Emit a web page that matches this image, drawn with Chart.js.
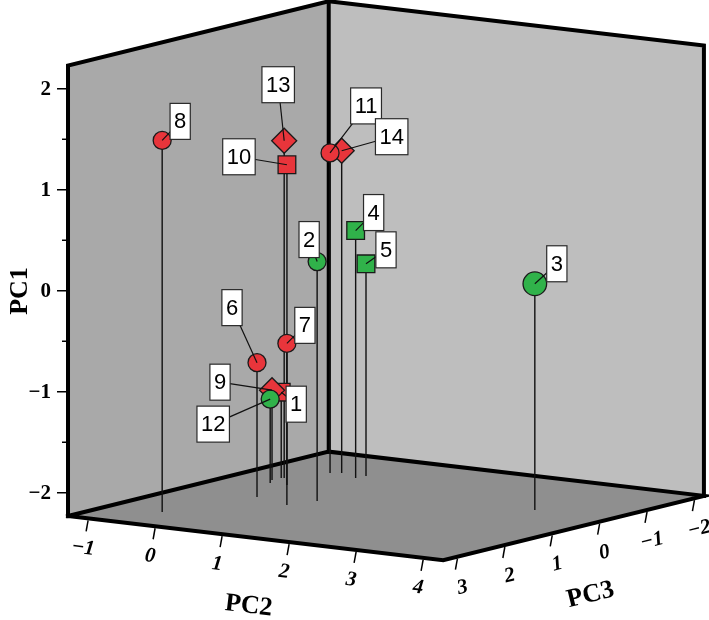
<!DOCTYPE html>
<html>
<head>
<meta charset="utf-8">
<title>PCA 3D scatter</title>
<script src="https://cdn.jsdelivr.net/npm/chart.js@4.4.1/dist/chart.umd.min.js"></script>
<style>
    html, body { margin: 0; padding: 0; background: #ffffff; }
    #wrap { width: 709px; height: 620px; }
</style>
</head>
<body>
<div id="wrap"><canvas id="pcaChart" width="709" height="620"></canvas></div>
<script>
// Samples and their scores on the three principal components
const samples = ['1', '2', '3', '4', '5', '6', '7', '8', '9', '10', '11', '12', '13', '14'];
const pc1Values = [-1.38, 0.14, 0.01, 0.22, -0.13, -0.90, -0.63, 1.45, -1.34, 0.94, 0.94, -1.40, 1.11, 0.96];
const pc2Values = [-0.70, 0.60, 3.17, 0.05, 0.07, -0.17, 0.46, -0.51, -0.71, -0.36, -0.41, -0.61, -0.67, -0.30];
const pc3Values = [-0.35, 0.73, -0.23, -0.86, -1.05, 0.91, 1.17, 2.43, -0.17, 0.01, -0.97, 0.01, -0.37, -1.06];
const sampleGroup = ['red', 'green', 'green', 'green', 'green', 'red', 'red', 'red', 'red', 'red', 'red', 'green', 'red', 'red'];
const sampleShape = ['square', 'circle', 'circle', 'square', 'square', 'circle', 'circle', 'circle', 'diamond', 'square', 'circle', 'circle', 'diamond', 'diamond'];

// Tick labels
const pc1Ticks = [-2, -1, 0, 1, 2];
const pc2Ticks = [-1, 0, 1, 2, 3, 4];
const pc3Ticks = [3, 2, 1, 0, -1, -2];

// Box limits of the 3D cube
const PC1_RANGE = [-2.23, 2.23];
const PC2_RANGE = [-1.3, 4.3];
const PC3_RANGE = [-2.2, 3.3];

// Styling / layout (not data)
const groupColors = { red: '#e8353b', green: '#30b24a' };
const shapeStyle = { circle: 'circle', square: 'rect', diamond: 'rectRot' };
const shapeRadius = { circle: 9, square: 12.5, diamond: 12.5 };
const bigMarker = { '3': 11.8 };
// label box offset from the marker, in pixels
const labelOffsets = {
    '1': [15, 12], '2': [-8, -22], '3': [22, -20], '4': [18, -18], '5': [20, -14],
    '6': [-25, -55], '7': [18, -18], '8': [18, -19], '9': [-52, -8], '10': [-48, -8],
    '11': [36, -47], '12': [-57, 25], '13': [-6, -56], '14': [50, -14]
};

// oblique projection of (PC1, PC2, PC3) into the flat chart plane
const KX3 = 0.7075, KY2 = 0.0782, KY3 = 0.1158;
function project(p1, p2, p3) {
    const a = p2 - PC2_RANGE[0];
    const b = PC3_RANGE[1] - p3;
    return { x: a + KX3 * b, y: p1 - KY2 * a + KY3 * b };
}

// rough viewer distance, used to paint far markers first
function nearness(i) {
    return 0.462 * pc2Values[i] + 0.687 * pc3Values[i];
}

function toPx(chart, p) {
    return [chart.scales.x.getPixelForValue(p.x), chart.scales.y.getPixelForValue(p.y)];
}

function polygon(ctx, chart, pts, fill) {
    ctx.beginPath();
    pts.forEach(function(p, i) {
        const q = toPx(chart, p);
        if (i === 0) ctx.moveTo(q[0], q[1]); else ctx.lineTo(q[0], q[1]);
    });
    ctx.closePath();
    ctx.fillStyle = fill;
    ctx.fill();
}

function polyline(ctx, chart, pts) {
    ctx.beginPath();
    pts.forEach(function(p, i) {
        const q = toPx(chart, p);
        if (i === 0) ctx.moveTo(q[0], q[1]); else ctx.lineTo(q[0], q[1]);
    });
    ctx.stroke();
}

function fmt(v) {
    return v < 0 ? '\u2212' + Math.abs(v) : String(v);
}

// cube walls, floor, edges, ticks and axis titles
const cubePlugin = {
    id: 'cube',
    beforeDatasetsDraw: function(chart) {
        const ctx = chart.ctx;
        const [c1a, c1b] = PC1_RANGE, [c2a, c2b] = PC2_RANGE, [c3a, c3b] = PC3_RANGE;
        ctx.save();

        // left wall (PC2 = min)
        polygon(ctx, chart, [project(c1a, c2a, c3b), project(c1b, c2a, c3b), project(c1b, c2a, c3a), project(c1a, c2a, c3a)], '#a9a9a9');
        // right wall (PC3 = min)
        polygon(ctx, chart, [project(c1a, c2a, c3a), project(c1b, c2a, c3a), project(c1b, c2b, c3a), project(c1a, c2b, c3a)], '#bebebe');
        // floor (PC1 = min)
        polygon(ctx, chart, [project(c1a, c2a, c3b), project(c1a, c2a, c3a), project(c1a, c2b, c3a), project(c1a, c2b, c3b)], '#8f8f8f');

        ctx.strokeStyle = '#000';
        ctx.lineWidth = 4;
        ctx.lineJoin = 'miter';
        ctx.lineCap = 'square';
        polyline(ctx, chart, [project(c1a, c2a, c3b), project(c1b, c2a, c3b), project(c1b, c2a, c3a), project(c1b, c2b, c3a), project(c1a, c2b, c3a)]);
        polyline(ctx, chart, [project(c1b, c2a, c3a), project(c1a, c2a, c3a)]);
        polyline(ctx, chart, [project(c1a, c2a, c3b), project(c1a, c2a, c3a), project(c1a, c2b, c3a), project(c1a, c2b, c3b), project(c1a, c2a, c3b)]);

        // PC1 ticks on the left vertical edge
        ctx.lineWidth = 1.5;
        ctx.lineCap = 'butt';
        for (let v = -2; v <= 2.001; v += 0.5) {
            const q = toPx(chart, project(v, c2a, c3b));
            const major = Math.abs(v - Math.round(v)) < 1e-6;
            ctx.beginPath();
            ctx.moveTo(q[0] - 1, q[1]);
            ctx.lineTo(q[0] - (major ? 11 : 6), q[1]);
            ctx.stroke();
        }
        ctx.fillStyle = '#000';
        ctx.font = 'bold 21px "Liberation Serif", "DejaVu Serif", serif';
        ctx.textAlign = 'right';
        ctx.textBaseline = 'middle';
        pc1Ticks.forEach(function(v) {
            const q = toPx(chart, project(v, c2a, c3b));
            ctx.fillText(fmt(v), q[0] - 17, q[1] + 1);
        });

        // PC2 ticks on the front-left floor edge
        const e2a = toPx(chart, project(c1a, c2a, c3b)), e2b = toPx(chart, project(c1a, c2b, c3b));
        const ang2 = Math.atan2(e2b[1] - e2a[1], e2b[0] - e2a[0]);
        ctx.textAlign = 'center';
        ctx.font = 'italic bold 21px "Liberation Serif", "DejaVu Serif", serif';
        pc2Ticks.forEach(function(v) {
            const q = toPx(chart, project(c1a, v, c3b));
            ctx.beginPath();
            ctx.moveTo(q[0], q[1] + 2);
            ctx.lineTo(q[0] - 2, q[1] + 13);
            ctx.stroke();
            ctx.save();
            ctx.translate(q[0] - 5, q[1] + 30);
            ctx.rotate(ang2);
            ctx.fillText(fmt(v), 0, 0);
            ctx.restore();
        });

        // PC3 ticks on the front-right floor edge
        const e3a = toPx(chart, project(c1a, c2b, c3b)), e3b = toPx(chart, project(c1a, c2b, c3a));
        const ang3 = Math.atan2(e3b[1] - e3a[1], e3b[0] - e3a[0]);
        pc3Ticks.forEach(function(v) {
            const q = toPx(chart, project(c1a, c2b, v));
            ctx.beginPath();
            ctx.moveTo(q[0], q[1] + 2);
            ctx.lineTo(q[0] - 2, q[1] + 13);
            ctx.stroke();
            ctx.save();
            ctx.translate(q[0] + 5, q[1] + 31);
            ctx.rotate(ang3);
            ctx.fillText(fmt(v), 0, 0);
            ctx.restore();
        });

        // axis titles
        ctx.font = 'bold 26px "Liberation Serif", "DejaVu Serif", serif';
        ctx.save();
        ctx.translate(20, 291);
        ctx.rotate(-Math.PI / 2);
        ctx.fillText('PC1', 0, 0);
        ctx.restore();

        const t2 = toPx(chart, project(c1a, (c2a + c2b) / 2, c3b));
        ctx.save();
        ctx.translate(t2[0] - 7, t2[1] + 68);
        ctx.rotate(ang2);
        ctx.fillText('PC2', 0, 0);
        ctx.restore();

        const t3 = toPx(chart, project(c1a, c2b, (c3a + c3b) / 2));
        ctx.save();
        ctx.translate(t3[0] + 17, t3[1] + 67);
        ctx.rotate(ang3);
        ctx.fillText('PC3', 0, 0);
        ctx.restore();

        ctx.restore();
    }
};

// sample number boxes with leader lines
const labelPlugin = {
    id: 'sampleLabels',
    afterDatasetsDraw: function(chart) {
        const ctx = chart.ctx;
        ctx.save();
        ctx.font = '22px "Liberation Sans", Arial, sans-serif';
        ctx.textAlign = 'center';
        ctx.textBaseline = 'middle';
        samples.forEach(function(name, i) {
            const q = toPx(chart, project(pc1Values[i], pc2Values[i], pc3Values[i]));
            const off = labelOffsets[name];
            const cx = q[0] + off[0], cy = q[1] + off[1];
            const w = ctx.measureText(name).width + 8, h = 36;
            ctx.strokeStyle = '#111';
            ctx.lineWidth = 1.2;
            ctx.beginPath();
            ctx.moveTo(q[0], q[1]);
            ctx.lineTo(cx, cy);
            ctx.stroke();
            ctx.fillStyle = '#fff';
            ctx.fillRect(cx - w / 2, cy - h / 2, w, h);
            ctx.strokeStyle = '#2a2a2a';
            ctx.strokeRect(cx - w / 2, cy - h / 2, w, h);
            ctx.fillStyle = '#000';
            ctx.fillText(name, cx, cy + 1);
        });
        ctx.restore();
    }
};

// drop lines from every sample to the floor
const dropDatasets = samples.map(function(name, i) {
    return {
        type: 'line',
        label: 'drop ' + name,
        data: [project(pc1Values[i], pc2Values[i], pc3Values[i]), project(PC1_RANGE[0], pc2Values[i], pc3Values[i])],
        borderColor: '#111',
        borderWidth: 1.4,
        pointRadius: 0,
        order: 2
    };
});

// markers, far ones painted first
const paintOrder = samples.map(function(_, i) { return i; }).sort(function(a, b) { return nearness(a) - nearness(b); });
const markerDataset = {
    type: 'scatter',
    label: 'samples',
    data: paintOrder.map(function(i) { return project(pc1Values[i], pc2Values[i], pc3Values[i]); }),
    pointStyle: paintOrder.map(function(i) { return shapeStyle[sampleShape[i]]; }),
    pointRadius: paintOrder.map(function(i) { return bigMarker[samples[i]] || shapeRadius[sampleShape[i]]; }),
    backgroundColor: paintOrder.map(function(i) { return groupColors[sampleGroup[i]]; }),
    borderColor: '#1a1a1a',
    borderWidth: 1.3,
    order: 1
};

new Chart(document.getElementById('pcaChart'), {
    type: 'scatter',
    data: { datasets: dropDatasets.concat([markerDataset]) },
    options: {
        responsive: false,
        animation: false,
        devicePixelRatio: 1,
        layout: { padding: 0, autoPadding: false },
        plugins: { legend: { display: false }, tooltip: { enabled: false } },
        scales: {
            x: { type: 'linear', display: false, min: -1.015, max: 9.567 },
            y: { type: 'linear', display: false, min: -3.26, max: 2.879 }
        }
    },
    plugins: [cubePlugin, labelPlugin]
});
</script>
</body>
</html>
